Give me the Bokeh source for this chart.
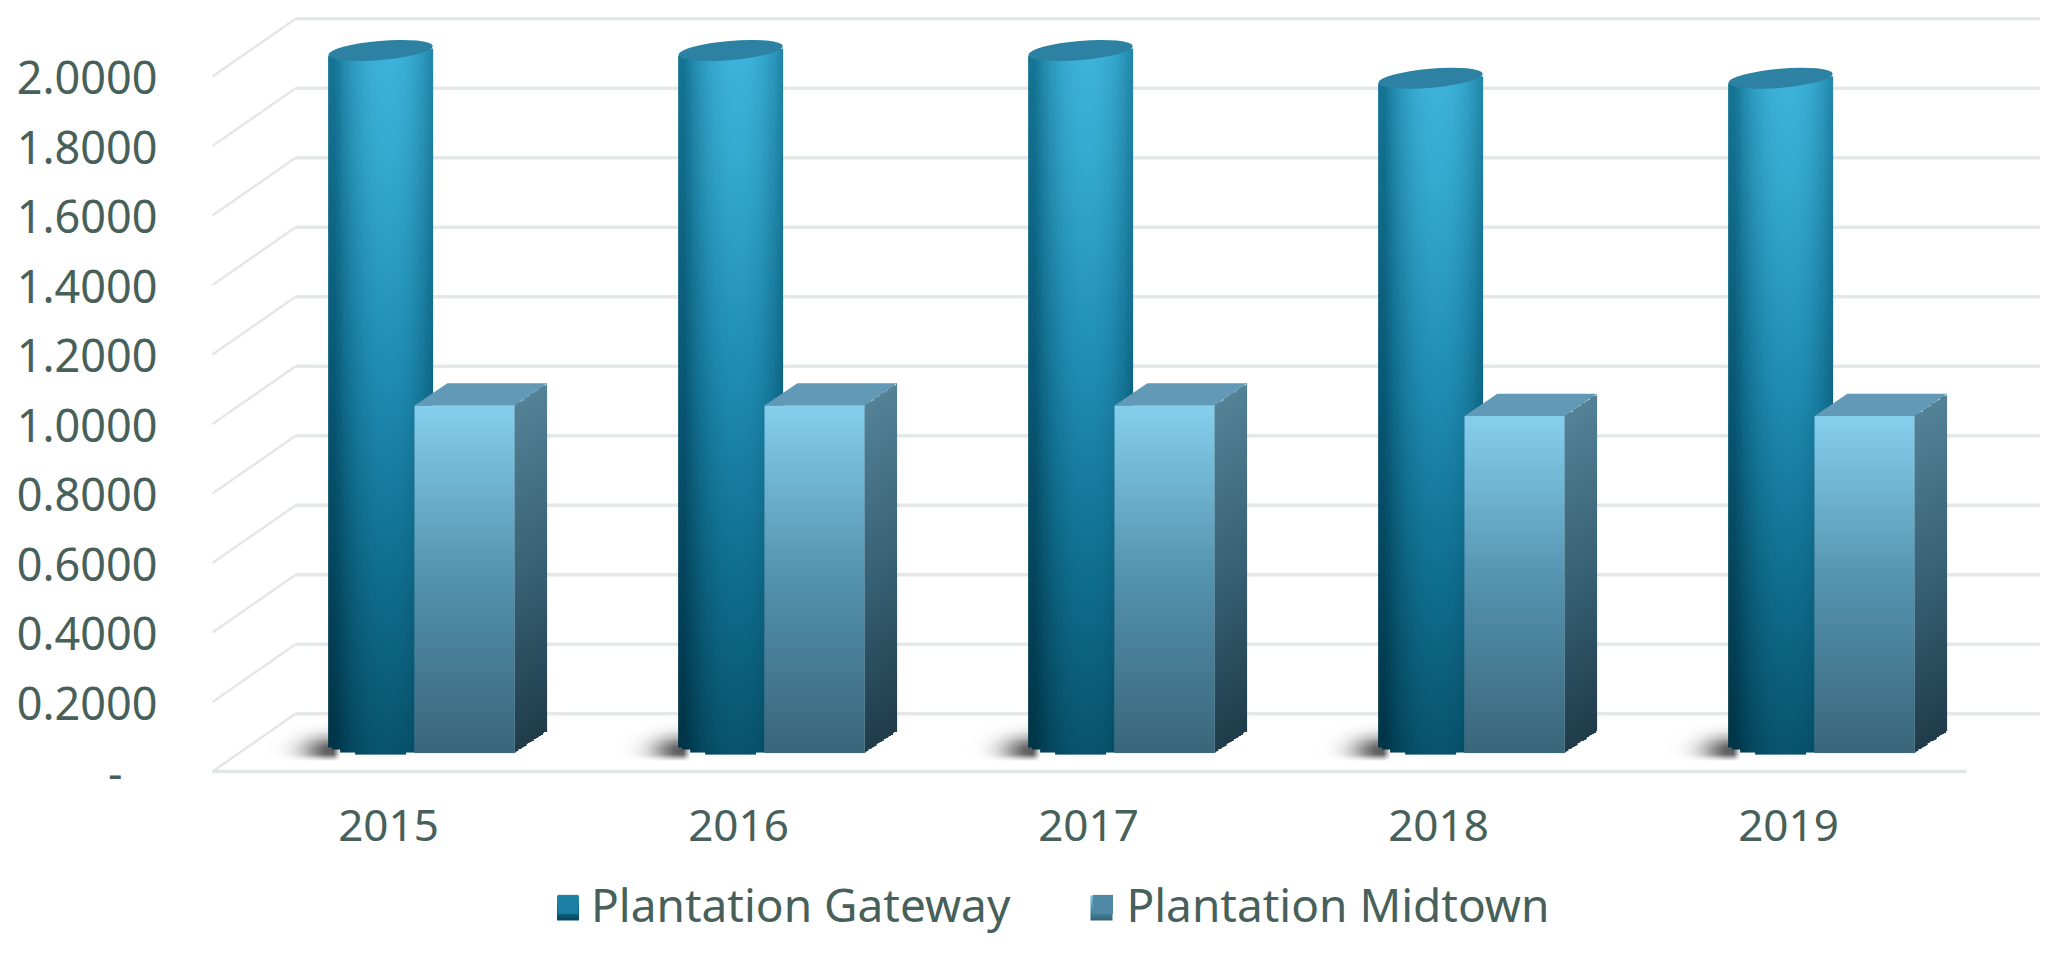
import numpy as np
from bokeh.plotting import figure
from bokeh.models import Range1d, FixedTicker, Legend, LegendItem
from bokeh.embed import file_html
from bokeh.resources import INLINE

years = ["2015", "2016", "2017", "2018", "2019"]
gateway = [2.0, 2.0, 2.0, 1.92, 1.92]
midtown = [1.0, 1.0, 1.0, 0.97, 0.97]
y_ticks = [0, 0.2, 0.4, 0.6, 0.8, 1.0, 1.2, 1.4, 1.6, 1.8, 2.0]
y_labels = ["-\u00a0\u00a0\u00a0", "0.2000", "0.4000", "0.6000", "0.8000", "1.0000",
            "1.2000", "1.4000", "1.6000", "1.8000", "2.0000"]
series_names = ["Plantation Gateway", "Plantation Midtown"]

W, H = 2040, 937
TXT = "#47605a"
PX_X, PX_Y = 350.0, 347.5      # pixels per data unit
X0, Y0 = 388.0, 771.0          # picture position of first category / value 0
def X(px): return (px - X0) / PX_X
def Y(py): return (Y0 - py) / PX_Y

p = figure(width=W, height=H, output_backend="svg", toolbar_location=None,
           x_range=Range1d(X(0), X(W)), y_range=Range1d(Y(H), Y(0)),
           min_border=0, outline_line_color=None, background_fill_color="white",
           border_fill_color="white")
p.grid.visible = False

def rgba_img(r, g, b, a):
    img = np.dstack([np.clip(c, 0, 255) for c in (r, g, b)] + [np.clip(a, 0, 1) * 255]).astype(np.uint8)
    return img.view(dtype=np.uint32).reshape(img.shape[:2])

def lerp_stops(t, stops):
    ts = [s[0] for s in stops]
    return [np.interp(t, ts, [s[1][k] for s in stops]) for k in range(3)]

# ---- grid (front edge, back wall, and the diagonal floor/wall joins)
left_front, left_back = X(212), X(295)
right_back, right_front = X(W + 5), X(1966)
depth_v = 0.166
ticks = np.array(y_ticks, dtype=float)
p.segment(left_back, ticks + depth_v, right_back, ticks + depth_v, line_color="#e4e9e7", line_width=3.5)
p.segment(left_front, ticks, left_back, ticks + depth_v, line_color="#e5e7e6", line_width=2.5)
p.segment(left_front, 0, right_front, 0, line_color="#e0e6e4", line_width=3.5)

# ---- bar geometry in data units
cyl_off, cyl_w, cyl_base = -0.0225, 0.30, 0.075
box_off, box_w, box_base = 0.217, 0.285, 0.053
box_dx, box_dv = 0.0936, 0.064
rim = 0.0264
idx = np.arange(len(years), dtype=float)
gw = np.array(gateway); mt = np.array(midtown)

# soft shadows behind each cylinder
ny, nx = 48, 120
yy, xx = np.mgrid[0:ny, 0:nx]
u = (xx + .5) / nx          # left to right across the shadow
w = (yy + .5) / ny          # bottom to top
sh_a = np.exp(-(((u - 0.58) / 0.24) ** 2 + ((w - 0.30) / 0.34) ** 2))
sh_a = sh_a * np.clip((w - 0.06) / 0.14, 0, 1) * np.clip((0.66 - u) / 0.06, 0, 1) * 0.95
sh_img = rgba_img(np.full(u.shape, 84.), np.full(u.shape, 84.), np.full(u.shape, 86.), sh_a)
p.image_rgba(image=[sh_img] * len(idx), x=idx - 0.36, y=[0.023] * len(idx), dw=0.34, dh=0.12)

# gateway cylinders
cyl_bar = p.vbar(x=idx + cyl_off, bottom=cyl_base, top=cyl_base + gw, width=0.27,
                 fill_color="#1a7fa3", line_color=None)

def cyl_image(val):
    h_v = val + cyl_base + rim * 0.2 - (cyl_base - rim)
    ny, nx = 300, 90
    yy, xx = np.mgrid[0:ny, 0:nx]
    s = (xx + .5) / nx                     # across
    t = (yy + .5) / ny                     # 0 bottom, 1 top
    centre = lerp_stops(t, [(0, (8, 84, 110)), (0.25, (16, 110, 142)), (0.55, (32, 142, 180)),
                            (0.85, (54, 170, 208)), (1, (62, 180, 220))])
    edge = lerp_stops(t, [(0, (1, 52, 70)), (0.5, (8, 86, 115)), (1, (22, 118, 150))])
    k = np.clip(np.abs(s - 0.56) / 0.5, 0, 1) ** 2.2
    r, g, b = [centre[i] * (1 - k) + edge[i] * k for i in range(3)]
    v_pos = (cyl_base - rim) + t * h_v
    lower = cyl_base - rim * np.sqrt(np.clip(1 - (2 * s - 1) ** 2, 0, 1))   # round bottom rim
    upper = cyl_base + val + (s - 0.5) * 0.024                              # hidden under the cap
    a = ((v_pos >= lower) & (v_pos <= upper)).astype(float)
    return rgba_img(r, g, b, a), h_v

for i, val in zip(idx, gw):
    img, h_v = cyl_image(val)
    p.image_rgba(image=[img], x=[i + cyl_off - cyl_w / 2], y=[cyl_base - rim], dw=[cyl_w], dh=[h_v])

p.ellipse(x=idx + cyl_off, y=cyl_base + gw, width=cyl_w * 0.995, height=0.055, angle=0.085,
          fill_color="#2d81a2", line_color=None)

# midtown boxes: side face, top face, front face
for i, val in zip(idx, mt):
    ny, nx = 300, 30
    yy, xx = np.mgrid[0:ny, 0:nx]
    s = (xx + .5) / nx
    t = (yy + .5) / ny
    total = val + box_dv
    v_pos = t * total
    lo = s * box_dv
    hi = val + s * box_dv
    a = ((v_pos >= lo) & (v_pos <= hi)).astype(float)
    f = np.clip((v_pos - lo) / val, 0, 1)
    r, g, b = lerp_stops(f, [(0, (32, 60, 74)), (0.5, (56, 98, 118)), (1, (84, 130, 150))])
    xl = i + box_off + box_w / 2
    p.image_rgba(image=[rgba_img(r, g, b, a)], x=[xl], y=[box_base], dw=[box_dx], dh=[total])

xs_top = [[i + box_off - box_w / 2, i + box_off + box_w / 2,
           i + box_off + box_w / 2 + box_dx, i + box_off - box_w / 2 + box_dx] for i in idx]
ys_top = [[box_base + m, box_base + m, box_base + m + box_dv, box_base + m + box_dv] for m in mt]
p.patches(xs_top, ys_top, fill_color="#6199b6", line_color=None)

box_bar = p.vbar(x=idx + box_off, bottom=box_base, top=box_base + mt, width=box_w,
                 fill_color="#4f89a5", line_color=None)

def vgrad(stops, ny=200):
    t = np.repeat((np.arange(ny)[:, None] + .5) / ny, 4, axis=1)
    r, g, b = lerp_stops(t, stops)
    return rgba_img(r, g, b, np.ones(t.shape))

p.image_rgba(image=[vgrad([(0, (58, 102, 122)), (0.5, (84, 146, 174)), (1, (134, 208, 238))])] * len(idx),
             x=idx + box_off - box_w / 2, y=[box_base] * len(idx),
             dw=[box_w] * len(idx), dh=mt.tolist())

# ---- axes inside the full-page frame
p.yaxis.fixed_location = left_front
p.yaxis.ticker = FixedTicker(ticks=y_ticks)
p.yaxis.major_label_overrides = dict(zip(y_ticks, y_labels))
p.yaxis.major_label_standoff = 49
p.yaxis.axis_line_color = None
p.yaxis.major_tick_line_color = None
p.yaxis.minor_tick_line_color = None
p.yaxis.major_label_text_font = "Noto Sans"
p.yaxis.major_label_text_font_size = "45px"
p.yaxis.major_label_text_color = TXT

p.xaxis.fixed_location = Y(771)
p.xaxis.ticker = FixedTicker(ticks=idx.tolist())
p.xaxis.major_label_overrides = {float(i): y for i, y in zip(idx, years)}
p.xaxis.major_label_standoff = 32
p.xaxis.axis_line_color = None
p.xaxis.major_tick_line_color = None
p.xaxis.minor_tick_line_color = None
p.xaxis.major_label_text_font = "Noto Sans"
p.xaxis.major_label_text_font_size = "44px"
p.xaxis.major_label_text_color = TXT

# ---- legend
legend = Legend(items=[LegendItem(label=series_names[0], renderers=[cyl_bar]),
                       LegendItem(label=series_names[1], renderers=[box_bar])],
                orientation="horizontal", location=(555, 2), background_fill_alpha=0,
                border_line_color=None, padding=0, margin=0, spacing=80, label_standoff=11,
                glyph_width=25, glyph_height=24,
                label_text_font="Noto Sans", label_text_font_size="46px", label_text_color=TXT)
p.add_layout(legend, "center")

# gradient faces for the two legend swatches, above the legend's own flat swatches
sw_left = [X(556.5), X(1090)]
sw_w = 22 / PX_X
sw_h = 25 / PX_Y
sw_y = Y(920)
p.image_rgba(image=[vgrad([(0, (5, 72, 96)), (1, (36, 152, 192))]),
                    vgrad([(0, (50, 100, 122)), (1, (122, 196, 226))])],
             x=sw_left, y=[sw_y, sw_y], dw=[sw_w, sw_w], dh=[sw_h, sw_h], level="overlay")

open("out.html", "w").write(file_html(p, INLINE))
